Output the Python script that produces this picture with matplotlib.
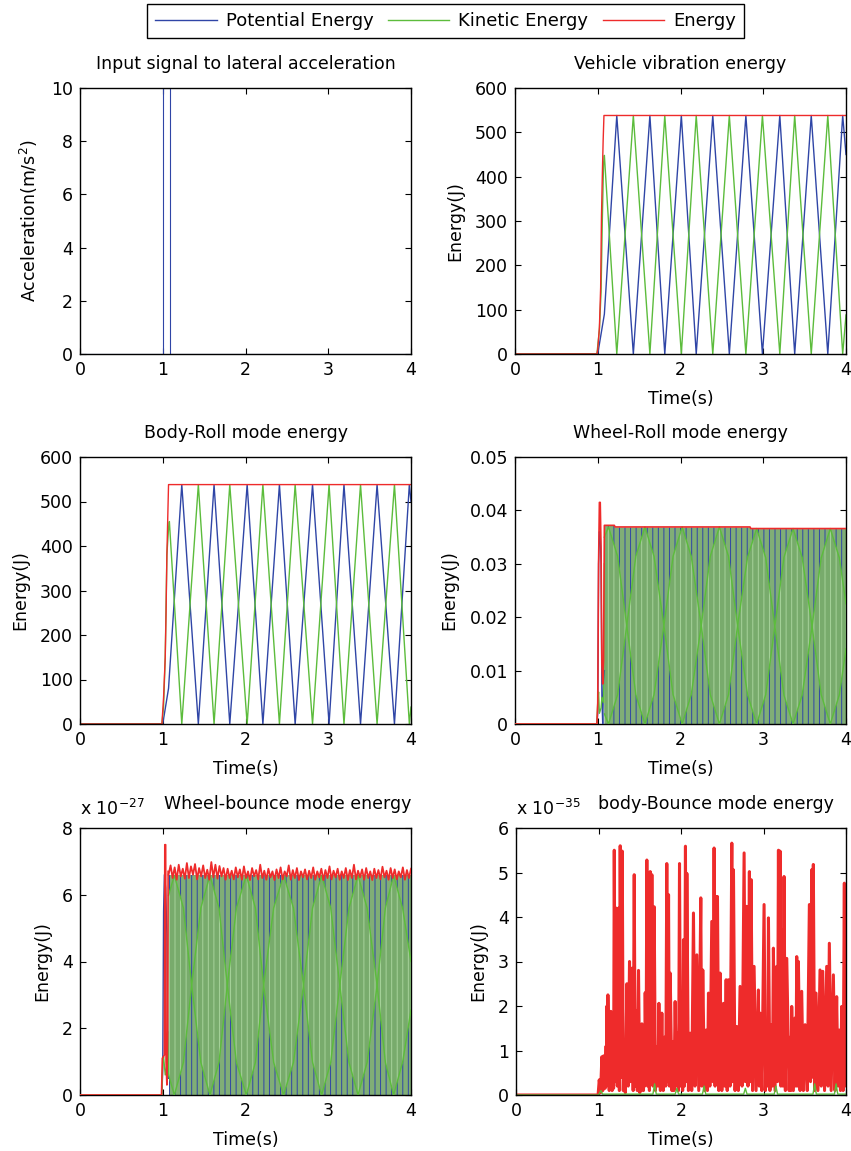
import matplotlib.pyplot as plt
import numpy as np
from matplotlib.lines import Line2D
from matplotlib.ticker import FuncFormatter, MultipleLocator

plt.rcParams['font.family'] = 'DejaVu Sans'
plt.rcParams['font.size'] = 12.5
plt.rcParams['hatch.linewidth'] = 0.7

BLUE = '#2f45a6'
GREEN = '#5cbc3c'
RED = '#ee2b2b'

# --- Input signal (pulse) ---
acc_t = [0, 1.0, 1.0, 1.09, 1.09, 4.0]
acc = [0, 0, 10, 10, 0, 0]

# --- Vehicle vibration energy ---
vv_blue_t = [0, 1.0, 1.08, 1.23, 1.43, 1.63, 1.81, 2.01, 2.19, 2.39, 2.59,
             2.79, 2.99, 3.20, 3.38, 3.58, 3.78, 3.96, 4.0]
vv_blue = [0, 0, 90, 538, 0, 538, 0, 538, 0, 538, 0, 538, 0, 538, 0, 538, 0, 538, 450]
vv_green_t = [0, 0.99, 1.02, 1.04, 1.055, 1.07, 1.08, 1.23, 1.43, 1.63, 1.81,
              2.01, 2.19, 2.39, 2.59, 2.79, 2.99, 3.20, 3.38, 3.58, 3.78, 3.96, 4.0]
vv_green = [0, 0, 55, 140, 300, 430, 448, 0, 538, 0, 538, 0, 538, 0, 538, 0,
            538, 0, 538, 0, 538, 0, 88]
vv_red_t = [0, 0.99, 1.0, 1.02, 1.035, 1.045, 1.055, 1.065, 1.075, 4.0]
vv_red = [0, 0, 10, 60, 150, 310, 400, 480, 538, 538]

# --- Body-Roll mode energy ---
br_blue_t = [0, 1.0, 1.07, 1.23, 1.43, 1.62, 1.81, 2.02, 2.21, 2.41, 2.60,
             2.81, 3.01, 3.19, 3.39, 3.59, 3.80, 3.98, 4.0]
br_blue = [0, 0, 80, 538, 0, 538, 0, 538, 0, 538, 0, 538, 0, 538, 0, 538, 0, 538, 500]
br_green_t = [0, 0.99, 1.01, 1.03, 1.05, 1.07, 1.08, 1.23, 1.43, 1.62, 1.81,
              2.02, 2.21, 2.41, 2.60, 2.81, 3.01, 3.19, 3.39, 3.59, 3.80, 3.98, 4.0]
br_green = [0, 0, 40, 150, 380, 440, 455, 0, 538, 0, 538, 0, 538, 0, 538, 0,
            538, 0, 538, 0, 538, 0, 38]
br_red_t = [0, 0.99, 1.0, 1.01, 1.03, 1.04, 1.05, 1.06, 1.07, 4.0]
br_red = [0, 0, 30, 60, 150, 250, 380, 460, 538, 538]

# --- Wheel-Roll mode energy ---
wr_red_t = [0, 0.99, 1.0, 1.01, 1.02, 1.03, 1.04, 1.05, 1.06, 1.07, 1.08,
            1.20, 1.21, 2.84, 2.85, 4.0]
wr_red = [0, 0, 0.004, 0.030, 0.0415, 0.0415, 0.033, 0.011, 0.0075, 0.012,
          0.0372, 0.0372, 0.0369, 0.0369, 0.0366, 0.0366]
wr_blue_t = [0, 0.99, 1.0, 1.01, 1.02, 1.03, 1.04, 1.05, 1.06, 1.07, 1.08]
wr_blue = [0, 0, 0.002, 0.030, 0.036, 0.0355, 0.030, 0.005, 0.0, 0.008, 0.010]
wr_green_t = [0, 0.99, 1.0, 1.01, 1.02, 1.04, 1.05, 1.07, 1.08]
wr_green = [0, 0, 0.004, 0.006, 0.002, 0.003, 0.005, 0.004, 0.030]
wr_top_t = [1.08, 1.20, 1.21, 2.84, 2.85, 4.0]
wr_top = [0.0371, 0.0371, 0.0368, 0.0368, 0.0365, 0.0365]
wr_lens_t = [1.08, 1.13, 1.24, 1.35, 1.46, 1.57, 1.68, 1.80, 1.91, 2.02, 2.13,
             2.25, 2.36, 2.47, 2.58, 2.69, 2.81, 2.92, 3.03, 3.14, 3.25, 3.36,
             3.47, 3.59, 3.70, 3.81, 3.92, 4.0]
wr_lens_a = [0.0350, 0.0369, 0.0314, 0.0185, 0.0055, 0.0, 0.0055, 0.0185,
             0.0314, 0.0369, 0.0314, 0.0185, 0.0055, 0.0, 0.0055, 0.0184,
             0.0312, 0.0366, 0.0311, 0.0183, 0.0054, 0.0, 0.0054, 0.0183,
             0.0311, 0.0366, 0.0311, 0.0225]
wr_lens_b = [0.0019, 0.0, 0.0055, 0.0184, 0.0314, 0.0369, 0.0314, 0.0184,
             0.0055, 0.0, 0.0055, 0.0184, 0.0314, 0.0369, 0.0314, 0.0184,
             0.0055, 0.0, 0.0055, 0.0183, 0.0312, 0.0366, 0.0312, 0.0183,
             0.0055, 0.0, 0.0055, 0.0141]

# --- Wheel-bounce mode energy (units of 1e-27 J) ---
wb_red_t = [0, 0.985, 0.995, 1.02, 1.025, 1.035, 1.04, 1.05, 1.06, 1.065]
wb_red = [0, 0, 1.1, 1.2, 7.5, 7.5, 1.0, 0.3, 1.9, 6.7]
wb_noise = [6.6, 6.88, 6.5, 6.82, 6.45, 6.9, 6.55, 6.78, 6.48, 6.95,
            6.5, 6.85, 6.6, 6.92, 6.46, 6.8, 6.55, 6.88, 6.5, 6.75,
            6.45, 6.98, 6.52, 6.9, 6.48, 6.86, 6.55, 6.8, 6.45, 6.78,
            6.5, 6.72, 6.46, 6.82, 6.52, 6.76, 6.45, 6.85, 6.5, 6.7,
            6.44, 6.8, 6.55, 6.74, 6.46, 6.9, 6.5, 6.72, 6.45, 6.78,
            6.52, 6.7, 6.44, 6.76, 6.5, 6.82, 6.46, 6.7, 6.55, 6.88,
            6.45, 6.74, 6.5, 6.8, 6.44, 6.7, 6.52, 6.76, 6.46, 6.72,
            6.5, 6.82, 6.45, 6.7, 6.52, 6.78, 6.44, 6.74, 6.5, 6.85,
            6.46, 6.72, 6.52, 6.78, 6.45, 6.7, 6.5, 6.8, 6.44, 6.74,
            6.5, 6.9, 6.46, 6.72, 6.52, 6.76, 6.45, 6.8, 6.5, 6.7,
            6.44, 6.78, 6.5, 6.74, 6.46, 6.84, 6.52, 6.72, 6.45, 6.8,
            6.5, 6.76, 6.46, 6.7, 6.52, 6.82, 6.45, 6.74, 6.5, 6.78]
wb_noise_t = np.linspace(1.07, 4.0, len(wb_noise))
wb_blue_t = [0, 0.99, 1.0, 1.01, 1.02, 1.035, 1.05, 1.06, 1.07]
wb_blue = [0, 0, 0.8, 5.5, 6.6, 6.2, 4.8, 1.0, 0.5]
wb_green_t = [0, 0.99, 1.0, 1.01, 1.03, 1.05, 1.06, 1.07]
wb_green = [0, 0, 1.0, 1.15, 0.6, 0.9, 1.9, 0.6]
wb_top_t = [1.07, 4.0]
wb_top = [6.58, 6.58]
wb_lens_t = [1.07, 1.14, 1.25, 1.35, 1.46, 1.57, 1.68, 1.78, 1.89, 2.01, 2.12,
             2.22, 2.34, 2.46, 2.58, 2.70, 2.81, 2.92, 3.03, 3.14, 3.25, 3.36,
             3.47, 3.59, 3.69, 3.79, 3.90, 4.0]
wb_lens_a = [0.6, 0.0, 0.98, 3.3, 5.6, 6.58, 5.6, 3.3, 0.98, 0.0, 0.98, 3.3,
             5.6, 6.58, 5.6, 3.3, 0.98, 0.0, 0.98, 3.3, 5.6, 6.58, 5.6, 3.3,
             0.98, 0.0, 1.0, 2.55]
wb_lens_b = [5.98, 6.58, 5.6, 3.28, 0.98, 0.0, 0.98, 3.28, 5.6, 6.58, 5.6, 3.28,
             0.98, 0.0, 0.98, 3.28, 5.6, 6.58, 5.6, 3.28, 0.98, 0.0, 0.98, 3.28,
             5.6, 6.58, 5.58, 4.0]

# --- body-Bounce mode energy (units of 1e-35 J) ---
bb_t = [0, 0.995, 1.009, 1.025, 1.041, 1.052, 1.062, 1.08, 1.092, 1.097, 1.102,
        1.108, 1.114, 1.13, 1.14, 1.145, 1.150, 1.165, 1.175, 1.183, 1.191,
        1.203, 1.215, 1.228, 1.243, 1.253, 1.263, 1.276, 1.288, 1.30, 1.312,
        1.325, 1.344, 1.36, 1.376, 1.39, 1.405, 1.42, 1.433, 1.445, 1.457,
        1.47, 1.485, 1.50, 1.51, 1.518, 1.526, 1.545, 1.555, 1.56, 1.566,
        1.576, 1.586, 1.596, 1.606, 1.617, 1.627, 1.637, 1.647, 1.66, 1.675,
        1.69, 1.707, 1.72, 1.732, 1.75, 1.768, 1.785, 1.80, 1.815, 1.828,
        1.838, 1.849, 1.859, 1.869, 1.89, 1.905, 1.915, 1.929, 1.945, 1.96,
        1.97, 1.982, 1.995, 2.010, 2.02, 2.030, 2.042, 2.054, 2.062, 2.071,
        2.09, 2.111, 2.13, 2.151, 2.17, 2.192, 2.215, 2.24, 2.252, 2.264,
        2.285, 2.304, 2.32, 2.333, 2.35, 2.373, 2.388, 2.401, 2.413, 2.426,
        2.434, 2.442, 2.458, 2.474, 2.495, 2.515, 2.53, 2.547, 2.56, 2.575,
        2.595, 2.616, 2.626, 2.636, 2.655, 2.676, 2.695, 2.716, 2.74, 2.765,
        2.78, 2.797, 2.812, 2.829, 2.84, 2.850, 2.868, 2.886, 2.91, 2.938,
        2.948, 2.959, 2.98, 3.007, 3.023, 3.039, 3.05, 3.060, 3.078, 3.096,
        3.108, 3.120, 3.14, 3.160, 3.17, 3.181, 3.19, 3.201, 3.21, 3.221,
        3.235, 3.249, 3.265, 3.282, 3.31, 3.325, 3.333, 3.342, 3.362, 3.382,
        3.392, 3.403, 3.413, 3.423, 3.443, 3.463, 3.483, 3.504, 3.53, 3.556,
        3.57, 3.584, 3.594, 3.604, 3.62, 3.637, 3.66, 3.685, 3.70, 3.718,
        3.74, 3.766, 3.782, 3.798, 3.82, 3.847, 3.867, 3.887, 3.903, 3.919,
        3.933, 3.948, 3.965, 3.980, 3.988, 3.996, 4.0]
bb_red = [0, 0, 0.34, 0.05, 0.86, 0.1, 0.88, 0.15, 1.1, 0.2, 2.0,
          0.3, 2.25, 0.1, 1.2, 0.2, 1.88, 0.1, 1.0, 0.15, 5.5,
          0.3, 4.2, 0.2, 4.2, 0.1, 5.6, 0.4, 5.48, 0.1, 1.2,
          0.05, 2.5, 0.2, 3.0, 0.3, 2.85, 0.1, 4.95, 0.2, 1.9,
          0.1, 2.8, 0.05, 1.2, 0.1, 1.6, 0.1, 1.0, 0.2, 2.3,
          0.3, 5.28, 0.2, 1.6, 0.1, 5.02, 0.4, 4.95, 0.2, 4.23,
          0.1, 1.09, 0.2, 2.06, 0.1, 1.84, 0.1, 1.3, 0.2, 5.2,
          0.3, 4.5, 0.2, 2.74, 0.1, 1.2, 0.1, 2.1, 0.2, 1.4,
          0.1, 5.2, 0.2, 1.69, 0.1, 3.49, 0.2, 5.59, 0.3, 4.98,
          0.1, 1.39, 0.1, 4.09, 0.2, 3.15, 0.1, 4.43, 0.2, 2.81,
          0.1, 1.46, 0.1, 2.29, 0.2, 3.9, 0.3, 5.55, 0.2, 4.46,
          0.3, 4.46, 0.1, 2.74, 0.1, 2.06, 0.2, 2.59, 0.1, 2.59,
          0.2, 5.66, 0.3, 5.06, 0.1, 1.54, 0.1, 2.44, 0.2, 5.44,
          0.3, 4.24, 0.2, 5.02, 0.3, 4.84, 0.1, 2.89, 0.1, 2.36,
          0.2, 1.84, 0.1, 4.28, 0.1, 1.39, 0.2, 3.98, 0.1, 1.58,
          0.2, 3.3, 0.1, 2.89, 0.3, 5.5, 0.4, 5.48, 0.2, 3.71,
          0.2, 4.91, 0.1, 3.07, 0.1, 1.3, 0.1, 1.99, 0.1, 1.73,
          0.2, 3.11, 0.2, 3.0, 0.1, 2.33, 0.1, 1.58, 0.1, 4.28,
          0.3, 5.06, 0.4, 5.18, 0.1, 2.29, 0.1, 2.81, 0.2, 2.78,
          0.1, 2.89, 0.2, 3.41, 0.1, 2.7, 0.1, 2.21, 0.2, 1.46,
          0.1, 1.99, 0.1, 4.76, 0.2, 1.46, 0.4]
bb_green_t = [0, 1.0, 1.03, 1.05, 1.66, 1.68, 1.70, 1.93, 1.95, 1.97, 2.26,
              2.28, 2.30, 2.76, 2.78, 2.80, 3.13, 3.15, 3.17, 3.60, 3.62, 3.64,
              3.86, 3.88, 3.90, 4.0]
bb_green = [0, 0, 0.1, 0.02, 0.02, 0.25, 0.02, 0.02, 0.15, 0.02, 0.02, 0.2,
            0.02, 0.02, 0.15, 0.02, 0.02, 0.2, 0.02, 0.02, 0.25, 0.02, 0.02,
            0.25, 0.02, 0.02]
bb_blue_t = [0, 4.0]
bb_blue = [0, 0]

W, H = 851, 1151
fig = plt.figure(figsize=(W / 100, H / 100), dpi=100)


def make_ax(x0, y_top, y_bot, x1):
    return fig.add_axes([x0 / W, 1 - y_bot / H, (x1 - x0) / W, (y_bot - y_top) / H])


def style(ax, ymax, ystep, title=None, ylabel='Energy(J)'):
    ax.set_xlim(0, 4)
    ax.set_ylim(0, ymax)
    ax.xaxis.set_major_locator(MultipleLocator(1))
    ax.yaxis.set_major_locator(MultipleLocator(ystep))
    ax.yaxis.set_major_formatter(FuncFormatter(lambda v, p: f'{v:g}'))
    ax.tick_params(direction='in', length=4, top=True, right=True, width=0.8, pad=5)
    for s in ax.spines.values():
        s.set_linewidth(1.0)
    ax.set_xlabel('Time(s)', labelpad=8)
    ax.set_ylabel(ylabel, labelpad=8)
    if title:
        ax.set_title(title, fontsize=12.5, pad=14)


def dense_block(ax, top_t, top, lens_t, lens_a, lens_b):
    ax.fill_between(top_t, 0, top, facecolor='#80ae76', edgecolor=BLUE,
                    hatch='|||', linewidth=0, zorder=2)
    ax.fill_between(lens_t, lens_a, lens_b, facecolor='#78ab6c',
                    edgecolor='#a7d39b', hatch='|||', linewidth=0, zorder=3)
    ax.plot(lens_t, lens_a, color=GREEN, lw=1.0, zorder=4)
    ax.plot(lens_t, lens_b, color=GREEN, lw=1.0, zorder=4)


# Input signal
ax1 = make_ax(80, 88, 354, 411)
ax1.plot(acc_t, acc, color=BLUE, lw=0.8)
style(ax1, 10, 2, 'Input signal to lateral acceleration', 'Acceleration(m/s$^2$)')
ax1.set_xlabel('')

# Vehicle vibration energy
ax2 = make_ax(515, 88, 354, 846)
ax2.plot(vv_blue_t, vv_blue, color=BLUE, lw=1)
ax2.plot(vv_green_t, vv_green, color=GREEN, lw=1)
ax2.plot(vv_red_t, vv_red, color=RED, lw=1)
style(ax2, 600, 100, 'Vehicle vibration energy')

# Body-Roll
ax3 = make_ax(80, 457, 724, 411)
ax3.plot(br_blue_t, br_blue, color=BLUE, lw=1)
ax3.plot(br_green_t, br_green, color=GREEN, lw=1)
ax3.plot(br_red_t, br_red, color=RED, lw=1)
style(ax3, 600, 100, 'Body-Roll mode energy')

# Wheel-Roll
ax4 = make_ax(515, 457, 724, 846)
ax4.plot(wr_blue_t, wr_blue, color=BLUE, lw=1, zorder=4)
ax4.plot(wr_green_t, wr_green, color=GREEN, lw=1, zorder=4)
dense_block(ax4, wr_top_t, wr_top, wr_lens_t, wr_lens_a, wr_lens_b)
ax4.plot(wr_red_t, wr_red, color=RED, lw=1.2, zorder=5)
style(ax4, 0.05, 0.01, 'Wheel-Roll mode energy')

# Wheel-bounce
ax5 = make_ax(80, 828, 1095, 411)
ax5.plot(wb_blue_t, wb_blue, color=BLUE, lw=1, zorder=4)
ax5.plot(wb_green_t, wb_green, color=GREEN, lw=1, zorder=4)
dense_block(ax5, wb_top_t, wb_top, wb_lens_t, wb_lens_a, wb_lens_b)
ax5.plot(wb_red_t, wb_red, color=RED, lw=1.2, zorder=5)
ax5.plot(wb_noise_t, wb_noise, color=RED, lw=1.3, zorder=5)
style(ax5, 8, 2)
ax5.set_title('Wheel-bounce mode energy', fontsize=12.5, pad=14, x=0.627)
ax5.text(0, 1.035, 'x 10$^{-27}$', transform=ax5.transAxes, ha='left', va='bottom')

# body-Bounce
ax6 = make_ax(516, 828, 1095, 846)
ax6.plot(bb_blue_t, bb_blue, color=BLUE, lw=1)
ax6.plot(bb_t, bb_red, color=RED, lw=2.2)
ax6.plot(bb_green_t, bb_green, color=GREEN, lw=1)
style(ax6, 6, 1)
ax6.set_title('body-Bounce mode energy', fontsize=12.5, pad=14, x=0.606)
ax6.text(0, 1.035, 'x 10$^{-35}$', transform=ax6.transAxes, ha='left', va='bottom')

handles = [Line2D([], [], color=BLUE, lw=1), Line2D([], [], color=GREEN, lw=1),
           Line2D([], [], color=RED, lw=1)]
leg = fig.legend(handles, ['Potential Energy', 'Kinetic Energy', 'Energy'],
                 loc='upper center', bbox_to_anchor=(0.5235, 0.9965), ncol=3,
                 fancybox=False, edgecolor='black', framealpha=1, fontsize=13,
                 handlelength=3.4, columnspacing=0.8, handletextpad=0.5,
                 borderpad=0.45, borderaxespad=0)
leg.get_frame().set_linewidth(1.0)

fig.savefig('out.png', dpi=100)
